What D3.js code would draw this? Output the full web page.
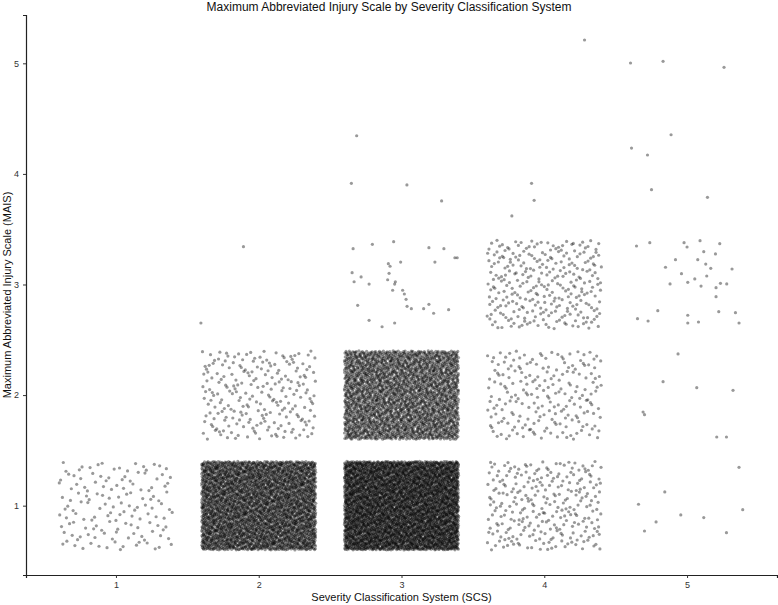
<!DOCTYPE html>
<html><head><meta charset="utf-8">
<script src="https://cdn.jsdelivr.net/npm/d3@7"></script>
<style>body{margin:0;background:#fff}svg{display:block}text{font-family:"Liberation Sans",Arial,sans-serif}</style>
</head><body><svg id="c" width="778" height="605"></svg>
<script>
// Tick labels / categories
const scsTicks = [1, 2, 3, 4, 5];
const maisTicks = [1, 2, 3, 4, 5];
// Dense cells: category pair and number of observations (jittered ±0.4)
const denseScs = [1, 2, 2, 3, 3, 4, 4, 4];
const denseMais = [1, 1, 2, 1, 2, 1, 2, 3];
const denseCounts = [145, 3500, 230, 4500, 2600, 270, 210, 290];
const sparseX = [1.595, 1.893,
  2.661, 2.796, 2.945, 3.192, 3.297, 3.374, 3.390, 2.994, 3.234, 2.908, 2.920, 2.654, 2.717, 2.913, 2.668, 2.773, 2.903, 2.957, 2.952, 2.938, 3.008, 3.020, 3.032, 3.039, 3.069, 3.155, 3.192, 3.225, 3.330, 2.693, 2.773, 2.864, 2.952,
  2.686, 2.649, 3.038, 3.281,
  3.773, 3.911, 3.929, 4.282,
  4.604, 4.832, 5.259, 4.888, 4.611, 4.723, 4.751, 5.143,
  4.646, 4.739, 4.979, 5.000, 5.091, 5.229, 5.117, 5.199, 4.919, 5.075, 5.131, 4.849, 5.166, 5.315, 4.961, 5.138, 5.054, 5.005, 4.881, 5.098, 5.234, 5.278, 5.203, 5.203, 4.795, 4.653, 4.727, 5.005, 5.005, 5.080, 5.222, 5.339, 5.364,
  4.937, 4.832, 5.068, 5.322, 4.692, 4.702, 5.208, 5.276,
  5.364, 4.844, 4.660, 5.390, 4.956, 5.117, 4.783, 4.702, 5.276];
const sparseY = [2.652, 3.342,
  3.324, 3.363, 3.387, 3.333, 3.324, 3.242, 3.242, 3.203, 3.203, 3.188, 3.165, 3.107, 3.068, 3.101, 3.025, 3.004, 3.043, 3.025, 3.004, 2.948, 2.948, 2.914, 2.866, 2.803, 2.781, 2.781, 2.821, 2.740, 2.772, 2.812, 2.676, 2.618, 2.652,
  4.345, 3.915, 3.900, 3.756,
  3.620, 3.915, 3.761, 5.211,
  5.003, 5.018, 4.964, 4.354, 4.234, 4.171, 3.857, 3.788,
  3.348, 3.378, 3.378, 3.339, 3.396, 3.369, 3.297, 3.276, 3.224, 3.224, 3.185, 3.156, 3.146, 3.140, 3.098, 3.077, 3.050, 3.020, 3.005, 2.986, 3.011, 3.005, 2.971, 2.890, 2.763, 2.691, 2.670, 2.722, 2.652, 2.661, 2.754, 2.745, 2.652,
  2.372, 2.121, 2.067, 2.043, 1.847, 1.823, 1.621, 1.621,
  1.347, 1.124, 1.013, 0.964, 0.916, 0.892, 0.853, 0.771, 0.756];

const svg = d3.select("#c");
const m = {left: 26, right: 1, top: 15, bottom: 30};
const W = 778, H = 605;
const x = d3.scaleLinear().domain([0.37, 5.63]).range([m.left, W - m.right]);
const y = d3.scaleLinear().domain([0.373, 5.437]).range([H - m.bottom, m.top]);

// Jitter layout within each cell: Halton low-discrepancy sequence (bases 2 and 3)
function halton(i, b) { let f = 1, r = 0; while (i > 0) { f /= b; r += f * (i % b); i = Math.floor(i / b); } return r; }
const pts = [];
let off = 1;
denseCounts.forEach((n, i) => {
  for (let k = 0; k < n; k++) {
    const u = halton(k + off, 2), v = halton(k + off, 3);
    pts.push([denseScs[i] - 0.4 + 0.8 * u, denseMais[i] - 0.4 + 0.8 * v]);
  }
  off += n + 101;
});
sparseX.forEach((d, i) => pts.push([d, sparseY[i]]));

svg.append("g").selectAll("circle").data(pts).join("circle")
  .attr("cx", d => x(d[0])).attr("cy", d => y(d[1])).attr("r", 1.6)
  .attr("fill", "#000").attr("fill-opacity", 0.4);

const xa = svg.append("g").attr("transform", `translate(0,${H - m.bottom})`)
  .call(d3.axisBottom(x).tickValues(scsTicks).tickSize(3).tickPadding(4).tickFormat(d3.format("d")));
const ya = svg.append("g").attr("transform", `translate(${m.left},0)`)
  .call(d3.axisLeft(y).tickValues(maisTicks).tickSize(3).tickPadding(4).tickFormat(d3.format("d")));
[xa, ya].forEach(g => {
  g.select(".domain").attr("stroke", "#222").attr("stroke-width", 1.2);
  g.selectAll(".tick line").attr("stroke", "#333");
  g.selectAll(".tick text").attr("font-size", 9).attr("fill", "#333").attr("font-family", "Liberation Sans, Arial, sans-serif");
});

svg.append("text").attr("x", 389).attr("y", 11).attr("text-anchor", "middle")
  .attr("font-size", 12).attr("fill", "#111").text("Maximum Abbreviated Injury Scale by Severity Classification System");
svg.append("text").attr("x", (m.left + W - m.right) / 2).attr("y", 601).attr("text-anchor", "middle")
  .attr("font-size", 11).attr("fill", "#111").text("Severity Classification System (SCS)");
svg.append("text").attr("transform", `translate(11,${(m.top + H - m.bottom) / 2}) rotate(-90)`).attr("text-anchor", "middle")
  .attr("font-size", 11).attr("fill", "#111").text("Maximum Abbreviated Injury Scale (MAIS)");
</script></body></html>
